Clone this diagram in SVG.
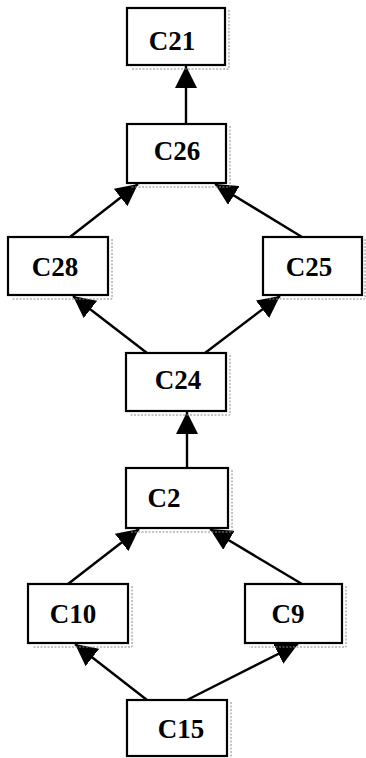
<svg xmlns="http://www.w3.org/2000/svg" width="366" height="758" viewBox="0 0 366 758">
<style>
.box{fill:#fff;stroke:#000;stroke-width:2.2}
.sh{fill:none;stroke:#888;stroke-width:1;stroke-dasharray:2 1.5}
.lbl{font-family:"Liberation Serif","Times New Roman",serif;font-weight:bold;font-size:27px;fill:#000;text-anchor:middle}
.edge{stroke:#000;stroke-width:2.4;fill:none;marker-end:url(#ah)}
</style>
<defs>
<marker id="ah" viewBox="0 0 22 22" refX="22" refY="11" markerWidth="22" markerHeight="22" markerUnits="userSpaceOnUse" orient="auto">
<path d="M0,0 L22,11 L0,22 Z" fill="#000"/>
</marker>
</defs>
<g id="connectors">
<line class="edge" x1="186" y1="124" x2="186" y2="66"/>
<line class="edge" x1="70" y1="237" x2="138" y2="184"/>
<line class="edge" x1="302" y1="237" x2="215" y2="184"/>
<line class="edge" x1="147" y1="353" x2="73" y2="296"/>
<line class="edge" x1="205" y1="353" x2="280" y2="296"/>
<line class="edge" x1="187" y1="468" x2="187" y2="412"/>
<line class="edge" x1="68" y1="584" x2="139" y2="529"/>
<line class="edge" x1="302" y1="584" x2="210" y2="529"/>
<line class="edge" x1="147" y1="700" x2="75" y2="644"/>
<line class="edge" x1="187" y1="700" x2="298" y2="644"/>
</g>
<g id="C21">
<path class="sh" d="M229,10 V69 H131"/>
<rect class="box" x="127" y="8" width="98" height="57"/>
<text class="lbl" x="172" y="50">C21</text>
</g>
<g id="C26">
<path class="sh" d="M230,126 V187 H131"/>
<rect class="box" x="127" y="124" width="99" height="59"/>
<text class="lbl" x="177" y="160">C26</text>
</g>
<g id="C28">
<path class="sh" d="M112,239 V299 H12"/>
<rect class="box" x="8" y="237" width="100" height="58"/>
<text class="lbl" x="55" y="276">C28</text>
</g>
<g id="C25">
<path class="sh" d="M365,239 V299 H267"/>
<rect class="box" x="263" y="237" width="99" height="58"/>
<text class="lbl" x="309" y="276">C25</text>
</g>
<g id="C24">
<path class="sh" d="M230,355 V415 H130"/>
<rect class="box" x="126" y="353" width="100" height="58"/>
<text class="lbl" x="178" y="389">C24</text>
</g>
<g id="C2">
<path class="sh" d="M232,470 V532 H130"/>
<rect class="box" x="126" y="468" width="102" height="60"/>
<text class="lbl" x="164" y="507">C2</text>
</g>
<g id="C10">
<path class="sh" d="M132,586 V647 H32"/>
<rect class="box" x="28" y="584" width="100" height="59"/>
<text class="lbl" x="73" y="623">C10</text>
</g>
<g id="C9">
<path class="sh" d="M346,586 V647 H249"/>
<rect class="box" x="245" y="584" width="97" height="59"/>
<text class="lbl" x="288" y="623">C9</text>
</g>
<g id="C15">
<path class="sh" d="M231,702 V758"/>
<rect class="box" x="127" y="700" width="100" height="56"/>
<text class="lbl" x="181" y="738">C15</text>
</g>
</svg>
